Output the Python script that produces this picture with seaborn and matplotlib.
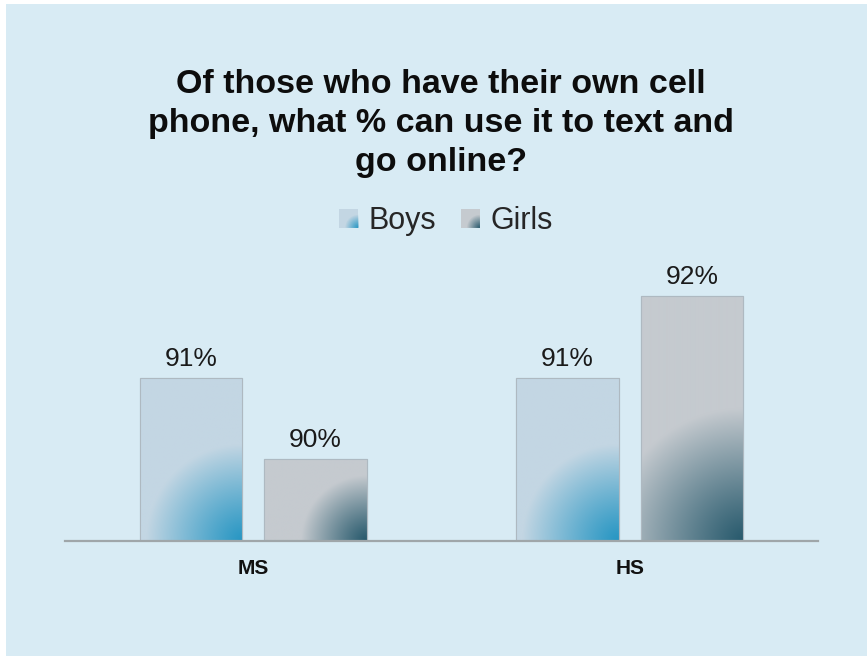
import numpy as np
import pandas as pd
import matplotlib
matplotlib.use("Agg")
import matplotlib.pyplot as plt
import seaborn as sns
from matplotlib.patches import Rectangle, Wedge
from matplotlib.legend_handler import HandlerBase
from matplotlib.colors import to_rgb

# ---- data ----
categories = ["MS", "HS"]
series = ["Boys", "Girls"]
boys = [91, 91]
girls = [90, 92]
title = "Of those who have their own cell\nphone, what % can use it to text and\ngo online?"

# ---- styles ----
BG = "#d8ebf4"
base_cols = {"Boys": "#c3d6e3", "Girls": "#c5cacf"}
dark_cols = {"Boys": "#2796c3", "Girls": "#285a6d"}

df = pd.DataFrame({
    "group": categories * 2,
    "series": [series[0]] * len(categories) + [series[1]] * len(categories),
    "value": boys + girls,
})

sns.set_theme(style="white")
plt.rcParams["font.family"] = ["Liberation Sans", "DejaVu Sans"]

W, H = 867, 656
fig = plt.figure(figsize=(W / 100, H / 100), dpi=100)
fig.patch.set_facecolor("white")
fig.patches.append(Rectangle((6 / W, 0), 1 - 6 / W, 1 - 4 / H, transform=fig.transFigure,
                             facecolor=BG, edgecolor="none", zorder=-10))

ax_left, ax_right, ax_bottom = 65, 818, 541
ymin, ymax = 89, 92.5
px_per_unit = (541 - 296) / 3.0
ax_top = ax_bottom - (ymax - ymin) * px_per_unit
ax = fig.add_axes([ax_left / W, (H - ax_bottom) / H, (ax_right - ax_left) / W, (ax_bottom - ax_top) / H])
ax.set_facecolor("none")

sns.barplot(data=df, x="group", y="value", hue="series", order=categories, hue_order=series,
            palette=base_cols, width=0.662, gap=0.18, ax=ax, legend=False,
            edgecolor="#aeb9c1", linewidth=0.8, saturation=1)

ax.set_xlim(-0.5, 1.5)
ax.set_ylim(ymin, ymax)
ax.set_autoscale_on(False)

# radial gradient overlay from bottom-right corner of each bar
fig.canvas.draw()
for cont, s in zip(ax.containers, series):
    base = np.array(to_rgb(base_cols[s]))
    dark = np.array(to_rgb(dark_cols[s]))
    for p in cont.patches:
        x0 = p.get_x(); x1 = x0 + p.get_width()
        top = p.get_y() + p.get_height()
        bx0, by0 = ax.transData.transform((x0, ymin))
        bx1, by1 = ax.transData.transform((x1, top))
        wpx, hpx = bx1 - bx0, by1 - by0
        nx, ny = max(int(wpx), 2), max(int(hpx), 2)
        xs = np.linspace(0, wpx, nx)
        ys = np.linspace(hpx, 0, ny)  # row 0 = top
        X, Y = np.meshgrid(xs, ys)
        d = np.sqrt((wpx - X) ** 2 + Y ** 2)
        R = 0.5 * np.sqrt(wpx ** 2 + hpx ** 2)
        t = np.clip(d / R, 0, 1)
        t = t ** 1.1
        img = dark[None, None, :] * (1 - t[..., None]) + base[None, None, :] * t[..., None]
        im = ax.imshow(img, extent=(x0, x1, ymin, top), aspect="auto", origin="upper",
                       zorder=p.get_zorder() + 0.1, interpolation="bilinear")
        im.set_clip_path(p)
        ax.add_patch(Rectangle((x0, p.get_y()), p.get_width(), p.get_height(), facecolor="none",
                               edgecolor="#aeb9c1", linewidth=0.8, zorder=p.get_zorder() + 0.2))
    ax.bar_label(cont, labels=[f"{int(v)}%" for v in cont.datavalues], padding=5,
                 fontsize=19, color="#1a1a1a")

ax.set_xlim(-0.5, 1.5)
ax.set_ylim(ymin, ymax)

for sp in ["left", "right", "top"]:
    ax.spines[sp].set_visible(False)
ax.spines["bottom"].set_color("#9fa6a9")
ax.spines["bottom"].set_linewidth(1.6)
ax.set_yticks([])
ax.tick_params(axis="x", length=0, pad=13, labelsize=15)
for lbl in ax.get_xticklabels():
    lbl.set_fontweight("bold")
    lbl.set_color("#111111")
ax.set_xlabel("")
ax.set_ylabel("")


# legend with gradient squares
class GradHandler(HandlerBase):
    def __init__(self, base, dark):
        super().__init__()
        self.base = np.array(to_rgb(base)); self.dark = np.array(to_rgb(dark))

    def create_artists(self, legend, orig_handle, xdescent, ydescent, width, height, fontsize, trans):
        s = min(width, height)
        x0 = -xdescent + (width - s) / 2
        y0 = -ydescent + (height - s) / 2
        arts = [Rectangle((x0, y0), s, s, facecolor=self.base, edgecolor="none", transform=trans)]
        R = 0.72 * s
        n = 14
        for i in range(n):
            r = R * (1 - i / n)
            t = (r / R) ** 1.1
            c = self.dark * (1 - t) + self.base * t
            arts.append(Wedge((x0 + s, y0), r, 90, 180, facecolor=c, edgecolor="none", transform=trans))
        return arts


h1 = Rectangle((0, 0), 1, 1); h2 = Rectangle((0, 0), 1, 1)
fig.legend([h1, h2], series, loc="center", bbox_to_anchor=(446 / W, 1 - 221 / H), ncol=2,
           frameon=False, fontsize=22, handlelength=0.62, handleheight=0.62, handletextpad=0.35,
           columnspacing=0.8,
           handler_map={h1: GradHandler(base_cols["Boys"], dark_cols["Boys"]),
                        h2: GradHandler(base_cols["Girls"], dark_cols["Girls"])})

fig.text(441 / W, 1 - 69 / H, title, ha="center", va="top", fontsize=24.5, fontweight="bold",
         color="#0d0d0d", linespacing=1.33)

fig.savefig("out.png", dpi=100, facecolor=fig.get_facecolor())
